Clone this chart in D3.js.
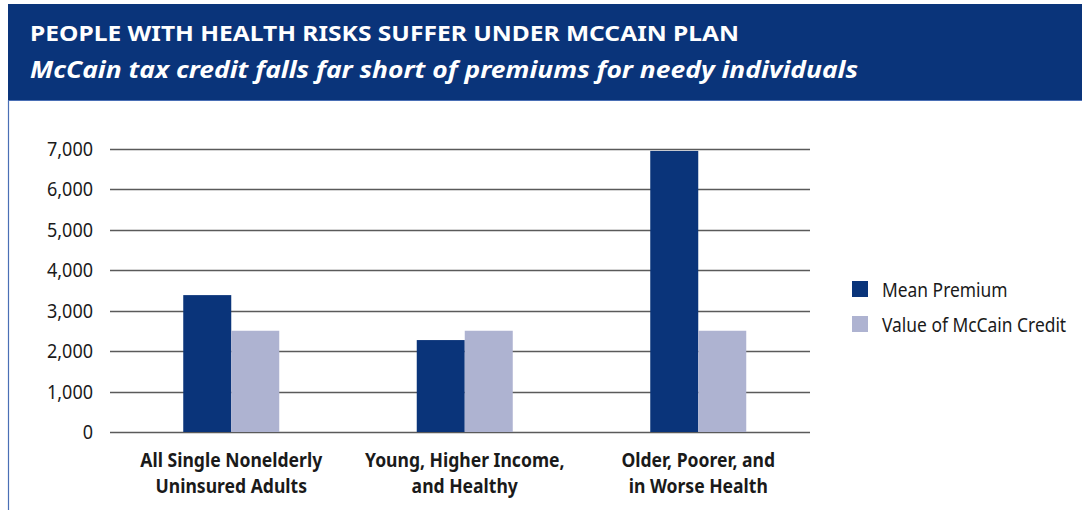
<!DOCTYPE html>
<html>
<head>
<meta charset="utf-8">
<script src="https://cdn.jsdelivr.net/npm/d3@7"></script>
<style>
  html, body { margin: 0; padding: 0; background: #fff; }
  svg { display: block; }
  text { font-family: "Noto Sans", "Open Sans", sans-serif; }
</style>
</head>
<body>
<svg id="chart" width="1082" height="510"></svg>
<script>
// Chart data
const title = "PEOPLE WITH HEALTH RISKS SUFFER UNDER MCCAIN PLAN";
const subtitle = "McCain tax credit falls far short of premiums for needy individuals";
const categories = [
  ["All Single Nonelderly", "Uninsured Adults"],
  ["Young, Higher Income,", "and Healthy"],
  ["Older, Poorer, and", "in Worse Health"]
];
const seriesNames = ["Mean Premium", "Value of McCain Credit"];
const meanPremium = [3380, 2270, 6940];
const mccainCredit = [2500, 2500, 2500];
const yTicks = [0, 1000, 2000, 3000, 4000, 5000, 6000, 7000];

const colors = ["#0a347a", "#aeb3d1"];
const ink = "#1a1a1a";

const svg = d3.select("#chart");

// Narrow type: a text drawn inside a group squeezed horizontally
function narrowText(parent, x, y, str, opts) {
  const g = parent.append("g")
    .attr("transform", `translate(${x},${y}) scale(${opts.sx},1)`);
  return g.append("text")
    .attr("x", 0).attr("y", 0)
    .attr("text-anchor", opts.anchor || "start")
    .attr("font-size", opts.size)
    .attr("font-weight", opts.weight || 400)
    .attr("fill", opts.fill || ink)
    .text(str);
}

// Header band
svg.append("rect").attr("x", 8).attr("y", 4).attr("width", 1074).attr("height", 96)
  .attr("fill", "#0a347a");
svg.append("line").attr("x1", 8).attr("x2", 1082).attr("y1", 100.5).attr("y2", 100.5)
  .attr("stroke", "#4a6fb5").attr("stroke-width", 1);
svg.append("line").attr("x1", 8.5).attr("x2", 8.5).attr("y1", 100).attr("y2", 510)
  .attr("stroke", "#4a6fb5").attr("stroke-width", 1.2);

svg.append("text").attr("x", 30).attr("y", 40.5)
  .attr("fill", "#fff").attr("font-weight", 700).attr("font-size", 21.5)
  .attr("textLength", 709).attr("lengthAdjust", "spacingAndGlyphs")
  .text(title);
svg.append("text").attr("x", 30).attr("y", 77.5)
  .attr("fill", "#fff").attr("font-weight", 700).attr("font-style", "italic").attr("font-size", 23)
  .attr("textLength", 828).attr("lengthAdjust", "spacingAndGlyphs")
  .text(subtitle);

// Scales
const y = d3.scaleLinear().domain([0, 7000]).range([432, 148.5]);
const x0 = d3.scaleBand().domain(d3.range(categories.length)).range([114.5, 815]);
const barW = 48;

// Gridlines
svg.append("g").selectAll("line").data(yTicks).join("line")
  .attr("x1", 110).attr("x2", 810)
  .attr("y1", d => Math.round(y(d)) + 0.5).attr("y2", d => Math.round(y(d)) + 0.5)
  .attr("stroke", "#5a5a5a").attr("stroke-width", 1.4);

// Y axis labels
const yAxisG = svg.append("g");
yTicks.forEach(t => {
  narrowText(yAxisG, 93, y(t) + 7, d3.format(",")(t), { size: 20, sx: 0.9, anchor: "end" });
});

// Bars
const series = [meanPremium, mccainCredit];
series.forEach((vals, si) => {
  svg.append("g").selectAll("rect").data(vals).join("rect")
    .attr("x", (d, i) => x0(i) + x0.bandwidth() / 2 - barW + si * barW)
    .attr("width", barW)
    .attr("y", d => y(d))
    .attr("height", d => y(0) - y(d))
    .attr("fill", colors[si]);
});

// Category labels
const xAxisG = svg.append("g");
categories.forEach((lines, i) => {
  const cx = x0(i) + x0.bandwidth() / 2;
  lines.forEach((ln, j) => {
    narrowText(xAxisG, cx, 467 + j * 26, ln, { size: 19.5, sx: 0.9, anchor: "middle", weight: 700 });
  });
});

// Legend
const legendG = svg.append("g");
seriesNames.forEach((name, i) => {
  legendG.append("rect").attr("x", 852).attr("y", 281 + i * 35)
    .attr("width", 16).attr("height", 16).attr("fill", colors[i]);
  narrowText(legendG, 882, 296.5 + i * 35, name, { size: 20, sx: 0.87 });
});
</script>
</body>
</html>
